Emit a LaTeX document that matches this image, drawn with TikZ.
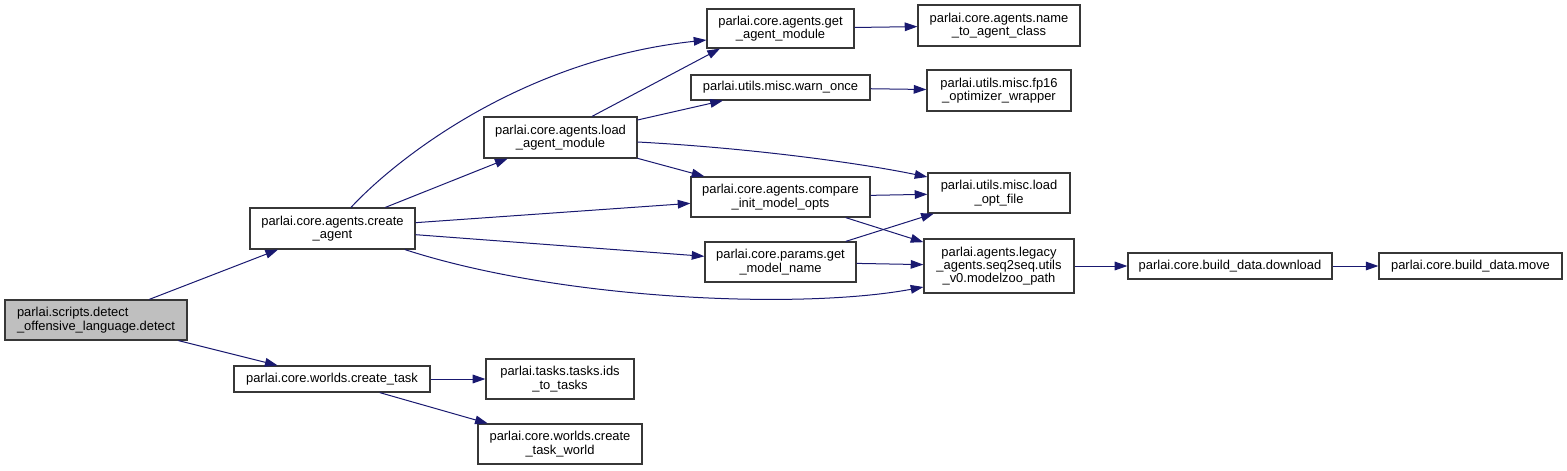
\documentclass[tikz,border=0pt]{standalone}
\usepackage{fontspec}
\setmainfont{Liberation Sans}
\usepackage{xcolor}
\definecolor{dxedge}{RGB}{25,25,112}
\definecolor{dxline}{RGB}{55,55,55}
\definecolor{dxgray}{RGB}{191,191,191}
\usepackage{tikz}
\usetikzlibrary{arrows.meta}

\begin{document}
\begin{tikzpicture}[x=0.75pt, y=-0.75pt,
    fn/.style={draw=dxline, line width=0.9pt, fill=white, inner sep=0pt, align=center,
      minimum height=30pt, font=\fontsize{9.7}{10}\selectfont},
    fnflat/.style={fn, minimum height=19.5pt},
    fnroot/.style={fn, fill=dxgray, align=left},
    call/.style={draw=dxedge, line width=0.75pt, -{Triangle[length=9.5pt, width=6.5pt]}}]
  \useasboundingbox (0,0) rectangle (1567,471);

  % Caller
  \node[fnroot, minimum width=136.5pt] (detect) at (96,320) {parlai.scripts.detect\\\_offensive\_language.detect};

  % First level
  \node[fn, minimum width=123.75pt, minimum height=30.75pt] (createagent) at (332.5,228.5) {parlai.core.agents.create\\\_agent};
  \node[fnflat, minimum width=147pt] (createtask) at (332,379) {parlai.core.worlds.create\_task};

  % Agents
  \node[fn, minimum width=114.75pt, minimum height=30.75pt] (loadmod) at (560.5,137.5) {parlai.core.agents.load\\\_agent\_module};
  \node[fn, minimum width=110.25pt, minimum height=29.25pt] (getmod) at (780.5,28.5) {parlai.core.agents.get\\\_agent\_module};
  \node[fnflat, minimum width=134.25pt, minimum height=18.75pt] (warnonce) at (780.5,87.5) {parlai.utils.misc.warn\_once};
  \node[fn, minimum width=134.25pt] (compare) at (780.5,197) {parlai.core.agents.compare\\\_init\_model\_opts};
  \node[fn, minimum width=113.25pt] (modelname) at (780.5,262) {parlai.core.params.get\\\_model\_name};
  \node[fn, minimum width=121.5pt, minimum height=30.75pt] (nameclass) at (999,25.5) {parlai.core.agents.name\\\_to\_agent\_class};
  \node[fn, minimum width=108pt, minimum height=30.75pt] (fp16) at (999,90.5) {parlai.utils.misc.fp16\\\_optimizer\_wrapper};
  \node[fn, minimum width=106.5pt] (optfile) at (999,193) {parlai.utils.misc.load\\\_opt\_file};
  \node[fn, minimum width=112.5pt, minimum height=40.5pt] (zoopath) at (999,266) {parlai.agents.legacy\\\_agents.seq2seq.utils\\\_v0.modelzoo\_path};
  \node[fnflat, minimum width=153pt] (download) at (1230,266) {parlai.core.build\_data.download};
  \node[fnflat, minimum width=137.25pt] (move) at (1470.5,266) {parlai.core.build\_data.move};

  % Tasks
  \node[fn, minimum width=111pt] (idstasks) at (560,379) {parlai.tasks.tasks.ids\\\_to\_tasks};
  \node[fn, minimum width=123pt] (taskworld) at (560,444) {parlai.core.worlds.create\\\_task\_world};

  % Calls
  \draw[call] (detect) -- (createagent);
  \draw[call] (detect) -- (createtask);
  \draw[call] (createagent.north -| 351,0) .. controls (395,160) and (520,60) .. (getmod.west |- 0,40);
  \draw[call] (createagent) -- (loadmod);
  \draw[call] (createagent) -- (compare);
  \draw[call] (createagent) -- (modelname);
  \draw[call] (createagent.south -| 405,0) .. controls (560,300) and (800,310) .. (zoopath.west |- 0,287);
  \draw[call] (loadmod.north -| 592,0) -- (getmod.south -| 720,0);
  \draw[call] (loadmod) -- (warnonce);
  \draw[call] (loadmod.east |- 0,142) .. controls (750,148) and (860,163) .. (optfile.west |- 0,177);
  \draw[call] (loadmod) -- (compare);
  \draw[call] (getmod) -- (nameclass);
  \draw[call] (warnonce) -- (fp16);
  \draw[call] (compare) -- (optfile);
  \draw[call] (compare) -- (zoopath);
  \draw[call] (modelname) -- (optfile);
  \draw[call] (modelname) -- (zoopath);
  \draw[call] (zoopath) -- (download);
  \draw[call] (download) -- (move);
  \draw[call] (createtask) -- (idstasks);
  \draw[call] (createtask) -- (taskworld);
\end{tikzpicture}
\end{document}
